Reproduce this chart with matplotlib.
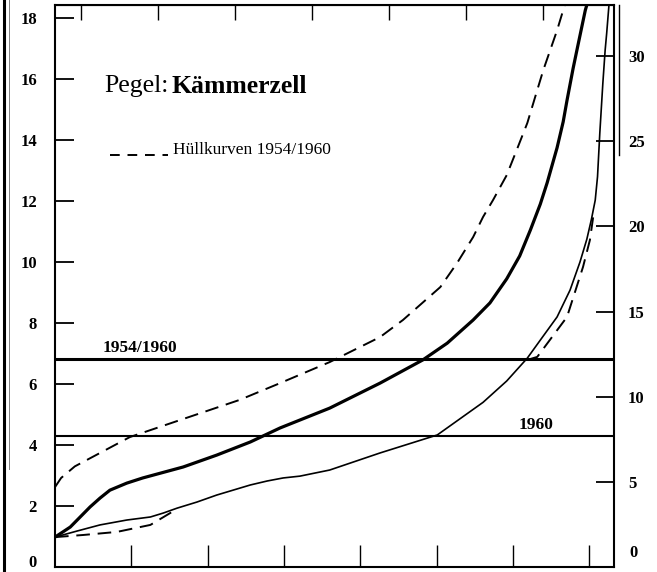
import matplotlib.pyplot as plt
from matplotlib.lines import Line2D

# Pegel Kämmerzell - Hüllkurven
x_huell_oben = [0, 0.08, 0.26, 0.59, 0.98, 1.64, 2.03, 2.42, 2.95, 3.60, 4.26, 4.56,
                5.05, 5.27, 5.48, 5.61, 5.74, 5.92, 6.05, 6.19, 6.32, 6.40, 6.49,
                6.58, 6.66, 6.68]
y_huell_oben = [2.62, 2.92, 3.30, 3.74, 4.26, 4.82, 5.15, 5.48, 6.03, 6.72, 7.54, 8.10,
                9.18, 9.97, 10.82, 11.48, 12.03, 12.85, 13.67, 14.56, 15.64, 16.3,
                16.95, 17.6, 18.26, 18.43]

x_1954 = [0, 0.20, 0.46, 0.59, 0.72, 0.94, 1.15, 1.68, 2.12, 2.56, 2.95, 3.60, 4.26,
          4.82, 5.14, 5.48, 5.70, 5.92, 6.09, 6.23, 6.36, 6.45, 6.58, 6.66, 6.71,
          6.79, 6.84, 6.95, 6.97]
y_1954 = [0.98, 1.31, 1.97, 2.26, 2.52, 2.75, 2.92, 3.28, 3.67, 4.10, 4.56, 5.21, 6.03,
          6.79, 7.34, 8.10, 8.66, 9.45, 10.2, 11.05, 11.9, 12.6, 13.75, 14.6,
          15.3, 16.35, 16.95, 18.26, 18.43]

x_1960 = [0, 0.29, 0.59, 0.94, 1.25, 1.42, 1.60, 1.86, 2.12, 2.56, 2.78, 2.99, 3.21,
          3.60, 4.26, 5.01, 5.61, 5.92, 6.19, 6.36, 6.58, 6.75, 6.88, 6.97, 7.03,
          7.08, 7.11, 7.14, 7.18, 7.21, 7.23, 7.26]
y_1960 = [0.98, 1.18, 1.38, 1.54, 1.64, 1.77, 1.93, 2.13, 2.36, 2.69, 2.82, 2.92, 2.98,
          3.18, 3.74, 4.33, 5.40, 6.10, 6.85, 7.44, 8.20, 9.08, 10.0, 10.75, 11.4,
          12.03, 12.8, 14.23, 15.87, 16.95, 17.5, 18.43]

x_huell_unten_a = [0, 0.37, 0.81, 1.25, 1.51, 1.60]
y_huell_unten_a = [0.98, 1.05, 1.15, 1.38, 1.77, 1.93]
x_huell_unten_b = [6.19, 6.32, 6.71, 6.92, 7.01, 7.06]
y_huell_unten_b = [6.79, 6.89, 8.20, 9.84, 10.72, 11.6]

hw_1954_1960 = 6.82
hw_1960 = 4.30

links_ticks = [0, 2, 4, 6, 8, 10, 12, 14, 16, 18]
rechts_ticks = [5, 10, 15, 20, 25, 30]
unten_ticks = [1, 2, 3, 4, 5, 6, 7]
oben_ticks = [0.34, 1.35, 2.36, 3.37, 4.38, 5.39, 6.40]

serif = "Liberation Serif"

fig = plt.figure(figsize=(6.57, 5.72), dpi=100)
ax = fig.add_axes([55 / 657, 5 / 572, 559 / 657, 562 / 572])
ax.set_xlim(0, 7.326)
ax.set_ylim(0, 18.43)

ax.plot(x_huell_oben, y_huell_oben, color="black", lw=1.4, dashes=(7, 4))
ax.plot(x_huell_unten_a, y_huell_unten_a, color="black", lw=1.4, dashes=(7, 4))
ax.plot(x_huell_unten_b, y_huell_unten_b, color="black", lw=1.4, dashes=(7, 4))
ax.plot(x_1954, y_1954, color="black", lw=2.3)
ax.plot(x_1960, y_1960, color="black", lw=1.2)
ax.axhline(hw_1954_1960, color="black", lw=2.2)
ax.axhline(hw_1960, color="black", lw=1.5)

for s in ax.spines.values():
    s.set_linewidth(1.5)

# linke Skala (die 0 steht etwas über dem Rand)
ax.set_yticks(links_ticks)
ax.set_yticklabels([""] + [str(t) for t in links_ticks[1:]], fontfamily=serif,
                   fontweight="bold", fontsize=12)
ax.tick_params(axis="y", direction="in", length=14, width=1.3, pad=13)
ax.text(-0.032, 0.13, "0", transform=ax.get_yaxis_transform(), fontfamily=serif,
        fontweight="bold", fontsize=12, va="center", ha="right")
ax.set_xticks(unten_ticks)
ax.set_xticklabels([])
ax.tick_params(axis="x", direction="in", length=16, width=1.0)

oben = ax.secondary_xaxis("top")
oben.set_xticks(oben_ticks)
oben.set_xticklabels([])
oben.tick_params(direction="in", length=11, width=1.0)

# rechte Skala
ax2 = ax.twinx()
ax2.set_ylim(0, 33.0)
ax2.set_yticks(rechts_ticks)
ax2.set_yticklabels([str(t) for t in rechts_ticks], fontfamily=serif,
                    fontweight="bold", fontsize=12)
ax2.tick_params(axis="y", direction="in", length=13, width=1.3, pad=10)
ax2.text(1.028, 0.025, "0", transform=ax2.transAxes, fontfamily=serif,
         fontweight="bold", fontsize=12, va="center", ha="left")
for s in ax2.spines.values():
    s.set_visible(False)

# Beschriftungen
ax.text(0.089, 0.855, "Pegel:", transform=ax.transAxes, fontfamily=serif,
        fontsize=18.5, va="center", ha="left")
ax.text(0.209, 0.855, "Kämmerzell", transform=ax.transAxes, fontfamily=serif,
        fontsize=18.5, fontweight="bold", va="center", ha="left")
ax.plot([0.72, 1.48], [13.5, 13.5], color="black", lw=1.4, dashes=(5, 4))
ax.text(0.211, 0.742, "Hüllkurven 1954/1960", transform=ax.transAxes,
        fontfamily=serif, fontsize=12.5, va="center", ha="left")
ax.text(0.085, hw_1954_1960 + 0.1, "1954/1960", transform=ax.get_yaxis_transform(),
        fontfamily=serif, fontsize=12.5, fontweight="bold", va="bottom", ha="left")
ax.text(0.83, hw_1960 + 0.1, "1960", transform=ax.get_yaxis_transform(),
        fontfamily=serif, fontsize=12.5, fontweight="bold", va="bottom", ha="left")

# Rand des Scans
fig.add_artist(Line2D([4 / 657, 4 / 657], [0, 1], color="black", lw=2.2))
fig.add_artist(Line2D([9 / 657, 9 / 657], [0.18, 1], color="gray", lw=0.7))
fig.add_artist(Line2D([619 / 657, 619 / 657], [(572 - 155) / 572, 1 - 5 / 572],
                      color="black", lw=1.0))

plt.savefig("out.png", dpi=100)
